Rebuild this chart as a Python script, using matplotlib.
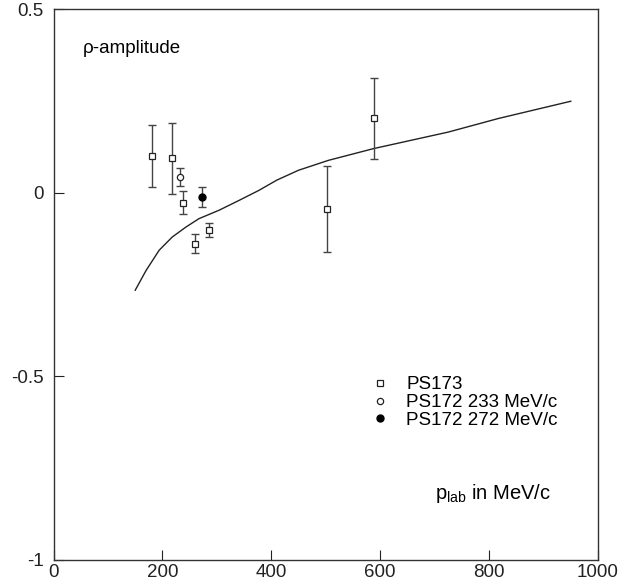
import matplotlib
matplotlib.use('Agg')
import matplotlib.pyplot as plt

plt.rcParams['font.family'] = ['Liberation Sans', 'DejaVu Sans']

# PS173 data
ps173_x = [180, 218, 238, 260, 286, 503, 588]
ps173_y = [0.100, 0.094, -0.026, -0.138, -0.101, -0.044, 0.203]
ps173_err = [0.084, 0.097, 0.032, 0.025, 0.019, 0.118, 0.110]

# PS172 233 MeV/c
ps172a_x = [233]
ps172a_y = [0.043]
ps172a_err = [0.025]

# PS172 272 MeV/c
ps172b_x = [272]
ps172b_y = [-0.012]
ps172b_err = [0.027]

# theory curve
curve_x = [150, 170, 194, 218, 243, 267, 304, 341, 377, 410, 450, 505, 588, 725, 817, 950]
curve_y = [-0.265, -0.211, -0.156, -0.120, -0.093, -0.070, -0.047, -0.020, 0.007, 0.035,
           0.062, 0.089, 0.121, 0.166, 0.203, 0.250]

xticks = [0, 200, 400, 600, 800, 1000]
yticks = [-1, -0.5, 0, 0.5]
ytick_labels = ['-1', '-0.5', '0', '0.5']

fig = plt.figure(figsize=(6.21, 5.86), dpi=100)
ax = fig.add_axes([0.0862, 0.0444, 0.8768, 0.9394])

ax.plot(curve_x, curve_y, color='#222222', lw=1.0)

ebkw = dict(fmt='none', ecolor='#444444', elinewidth=1.0, capsize=3, capthick=1.0)
ax.errorbar(ps173_x, ps173_y, yerr=ps173_err, **ebkw)
ax.errorbar(ps172a_x, ps172a_y, yerr=ps172a_err, **ebkw)
ax.errorbar(ps172b_x, ps172b_y, yerr=ps172b_err, **ebkw)

ax.plot(ps173_x, ps173_y, 's', ms=5, mfc='white', mec='#222222', mew=0.9, ls='none', label='PS173')
ax.plot(ps172a_x, ps172a_y, 'o', ms=4.5, mfc='white', mec='#222222', mew=0.9, ls='none',
        label='PS172 233 MeV/c')
ax.plot(ps172b_x, ps172b_y, 'o', ms=5, mfc='black', mec='black', ls='none',
        label='PS172 272 MeV/c')

ax.set_xlim(0, 1000)
ax.set_ylim(-1, 0.5)
ax.set_xticks(xticks)
ax.set_yticks(yticks)
ax.set_yticklabels(ytick_labels)
ax.tick_params(direction='in', length=7, width=0.8, labelsize=13.5, colors='#222222')
ax.tick_params(axis='x', pad=3)
ax.tick_params(axis='y', pad=7)
for s in ax.spines.values():
    s.set_linewidth(1.0)
    s.set_color('#333333')

ax.text(0.054, 0.93, 'ρ-amplitude', transform=ax.transAxes, fontsize=13.5, va='center', ha='left')
ax.text(0.701, 0.12, r'p$_{\mathregular{lab}}$ in MeV/c', transform=ax.transAxes, fontsize=14.5,
        va='center', ha='left')

ax.legend(loc='upper left', bbox_to_anchor=(0.582, 0.334), frameon=False, fontsize=13.5,
          handlelength=1.0, handletextpad=0.9, labelspacing=0.04, borderaxespad=0,
          borderpad=0)

fig.savefig('out.png', dpi=100)
